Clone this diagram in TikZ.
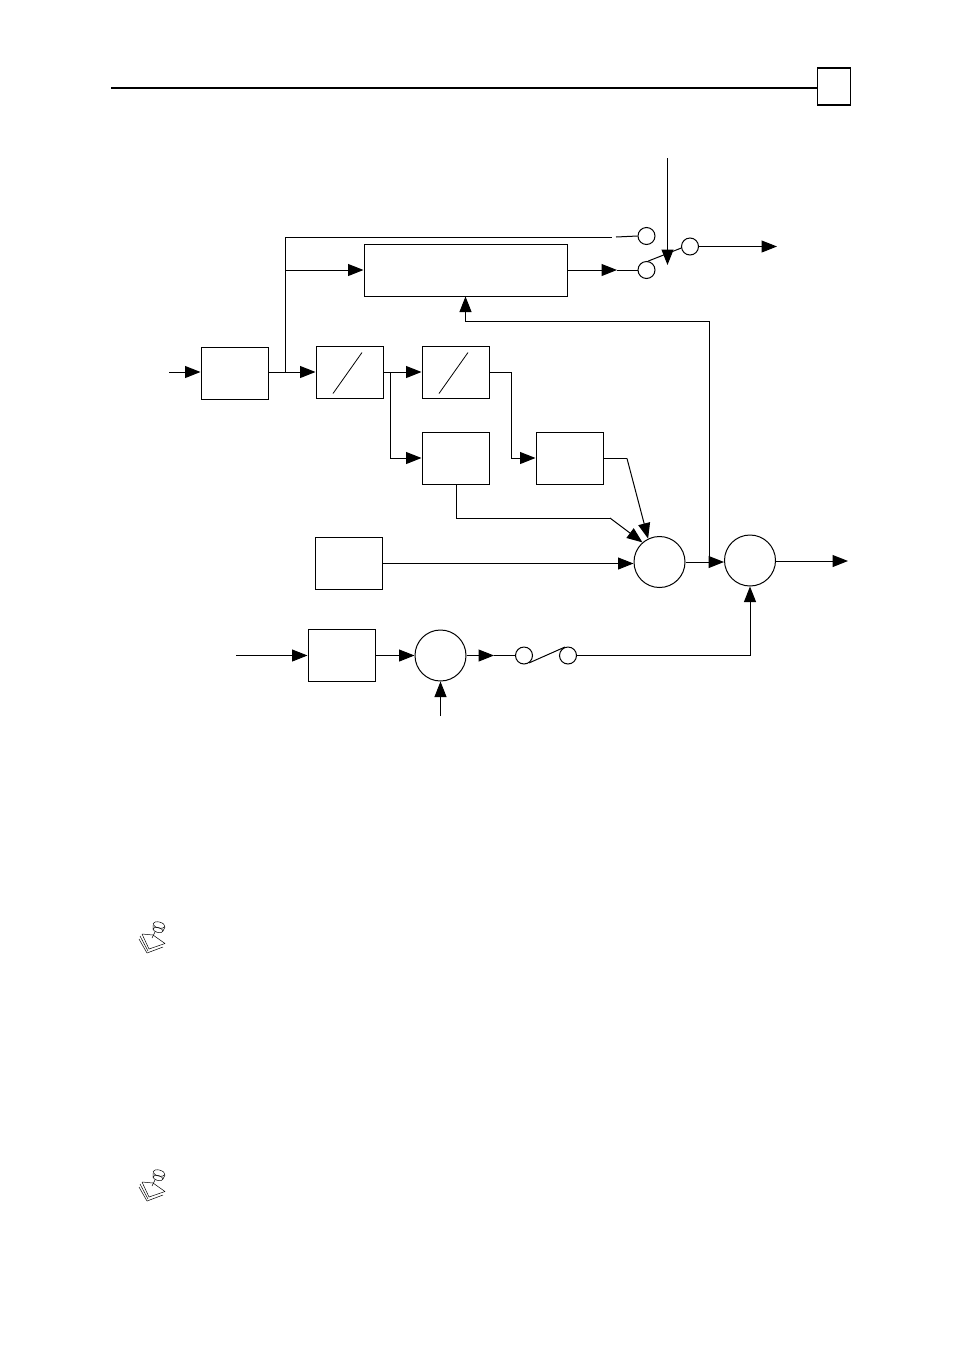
\documentclass[tikz,border=0pt]{standalone}
\usepackage{tikz}
\usetikzlibrary{arrows.meta}

\begin{document}
\begin{tikzpicture}[x=1pt,y=-1pt,->,>={Triangle[length=15.5pt,width=12pt]},
  line width=1pt,node distance=100pt,
  main node/.style={rectangle,draw,inner sep=0pt,
    minimum width=67pt,minimum height=52pt},
  wide node/.style={main node,minimum width=203pt},
  sum node/.style={circle,draw,inner sep=0pt,minimum size=51pt},
  contact node/.style={circle,draw,inner sep=0pt,minimum size=17pt},
  page node/.style={rectangle,draw,inner sep=0pt,line width=1.5pt,
    minimum width=33pt,minimum height=37pt}]

  \useasboundingbox (0,0) rectangle (954,1350);

  % header
  \node[page node] (PAGE) at (834,86.5) {};
  \coordinate (RULE) at (111,88);
  \draw[-,line width=2pt] (RULE) -- (RULE -| PAGE.west);

  % blocks
  \node[main node] (INBOX) at (234.5,373) {};
  \node[main node] (CONVA) [node distance=115pt, right of=INBOX, yshift=0.5pt] {};
  \node[main node] (CONVB) [node distance=106pt, right of=CONVA] {};
  \node[main node] (FILTA) [node distance=85.5pt, below of=CONVB] {};
  \node[main node] (FILTB) [node distance=114pt, right of=FILTA] {};
  \node[wide node] (WIDE) [node distance=102.5pt, above of=CONVB, xshift=10pt] {};
  \node[main node] (GAIN) [node distance=191pt, below of=CONVA, xshift=-1pt] {};
  \node[main node] (LOWER) [node distance=92pt, below of=GAIN, xshift=-7pt] {};

  % summing points
  \node[sum node] (SUMA) [node distance=311pt, right of=GAIN, yshift=1.5pt] {};
  \node[sum node] (SUMB) [node distance=90.5pt, right of=SUMA, yshift=1.5pt] {};
  \node[sum node] (SUMC) [node distance=99pt, right of=LOWER] {};

  % switch contacts
  \node[contact node] (TOPA) [node distance=181pt, right of=WIDE] {};
  \node[contact node] (TOPB) [node distance=34pt, above of=TOPA] {};
  \node[contact node] (TOPOUT) [node distance=43.5pt, right of=TOPA, yshift=23.5pt] {};
  \node[contact node] (LOWA) [node distance=83.5pt, right of=SUMC] {};
  \node[contact node] (LOWB) [node distance=44pt, right of=LOWA] {};

  % free ends and bends
  \coordinate (INSTART) at (169,372);
  \coordinate (TAP) at (285,372);
  \coordinate (GAPL) at (612,237);
  \coordinate (GAPR) at (616,237);
  \coordinate (TOPIN) at (667.5,158);
  \coordinate (SELTIP) at (667.5,265);
  \coordinate (TOPEND) at (777,246.5);
  \coordinate (WIDETIP) at (617,270);
  \coordinate (FORK) at (390,372);
  \coordinate (CONVTURN) at (511,372);
  \coordinate (FILTTURN) at (627,458.5);
  \coordinate (LOWTURN) at (456,518);
  \coordinate (LOWEND) at (610,518);
  \coordinate (FBTAP) at (709,562);
  \coordinate (FBTURN) at (709,321);
  \coordinate (OUTEND) at (848,561);
  \coordinate (LOWSTART) at (236,655.5);
  \coordinate (SUMIN) at (440.5,716);
  \coordinate (SUMTIP) at (494,655.5);

  % signal paths
  \path
    (INSTART) edge (INBOX.west |- INSTART)
    (INBOX.east |- TAP) edge (CONVA.west |- TAP)
    (CONVA.east |- FORK) edge (CONVB.west |- FORK)
    (TOPIN) edge (SELTIP)
    (TOPOUT.east) edge (TOPEND)
    (WIDE.east) edge (WIDETIP)
    (FILTB.east |- FILTTURN) edge[-] (FILTTURN)
    (FILTTURN) edge (SUMA.116)
    (LOWEND) edge (SUMA.131)
    (GAIN.east) edge (SUMA.west |- GAIN.east)
    (SUMA.east) edge (SUMB.west |- SUMA.east)
    (SUMB.east |- OUTEND) edge (OUTEND)
    (LOWSTART) edge (LOWER.west)
    (LOWER.east) edge (SUMC.west)
    (SUMIN) edge (SUMC.south)
    (SUMC.east) edge (SUMTIP)
    (SUMTIP) edge[-] (LOWA.west)
    (WIDETIP) edge[-] (TOPA.west)
    (GAPR) edge[-] (TOPB.west)
    (TOPA.80) edge[-] (TOPOUT.190)
    (LOWA.-55) edge[-] (LOWB.110)
    ;
  \draw (TAP) |- (WIDE.west);
  \draw[-] (TAP) |- (GAPL);
  \draw (FORK) |- (FILTA.west);
  \draw (CONVB.east |- CONVTURN) -- (CONVTURN) |- (FILTB.west);
  \draw[-] (FILTA.south -| LOWTURN) -- (LOWTURN) -- (LOWEND);
  \draw (FBTAP) -- (FBTURN) -| (WIDE.south);
  \draw (LOWB.east) -| (SUMB.south);

  % slashes in the converters
  \draw[-,line width=0.8pt] (CONVA.center) ++(-16.5,21) -- ++(29,-41);
  \draw[-,line width=0.8pt] (CONVB.center) ++(-16.5,21) -- ++(29,-41);

  % note icons
  \foreach \iconpos in {0,248} {
    \begin{scope}[-,yshift=-\iconpos pt,line width=0.5pt,line join=round]
      \draw[fill=white] (142,934) -- (153,935) -- (165,943.5) -- (149,949) -- cycle;
      \draw (140,936) -- (148,951);
      \draw (139,939) -- (147,953) -- (163,947);
      \draw[rotate around={-15:(159,925)}] (159,925) ellipse (6pt and 3pt);
      \draw[rotate around={-15:(158,930)}] (158,930) ellipse (5pt and 2.5pt);
      \draw (153,925) -- (153,930) (165,927) -- (163,931);
      \draw (155,932) -- (152,938);
    \end{scope}
  }
\end{tikzpicture}
\end{document}
